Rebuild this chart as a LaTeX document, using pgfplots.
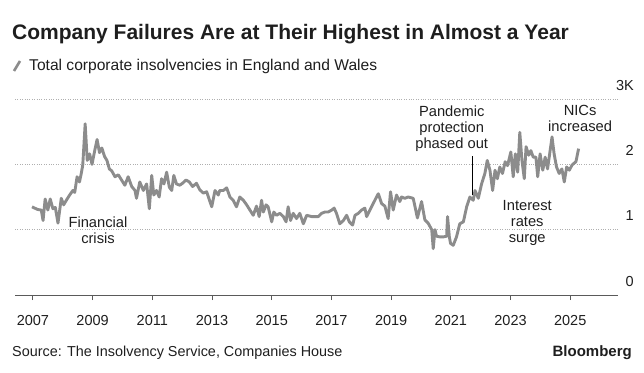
\documentclass[border=0pt]{standalone}
\usepackage{fontspec}
\setmainfont{Liberation Sans}
\usepackage{pgfplots}
\pgfplotsset{compat=1.18}
\usepackage{pgfplotstable}
\definecolor{linegray}{RGB}{140,140,140}
\definecolor{gridgray}{RGB}{175,175,175}
\definecolor{axgray}{RGB}{90,90,90}
\definecolor{txt}{RGB}{30,30,30}
\pgfplotstableread{
year val
2006.97 1.35
2007.15 1.31
2007.28 1.30
2007.34 1.14
2007.41 1.47
2007.50 1.30
2007.58 1.47
2007.67 1.32
2007.75 1.34
2007.84 1.10
2007.95 1.48
2008.03 1.38
2008.12 1.45
2008.23 1.53
2008.34 1.60
2008.40 1.57
2008.48 1.81
2008.56 1.73
2008.62 1.86
2008.67 1.99
2008.75 2.62
2008.82 2.06
2008.90 2.16
2008.98 2.00
2009.07 2.21
2009.15 2.38
2009.23 2.18
2009.31 2.25
2009.40 2.12
2009.48 2.06
2009.56 1.93
2009.64 1.90
2009.75 1.81
2009.86 1.84
2009.97 1.76
2010.08 1.68
2010.19 1.81
2010.31 1.66
2010.42 1.60
2010.47 1.48
2010.58 1.73
2010.70 1.60
2010.81 1.70
2010.90 1.32
2010.98 1.83
2011.05 1.53
2011.14 1.60
2011.23 1.50
2011.31 1.78
2011.39 1.70
2011.48 1.88
2011.57 1.65
2011.65 1.60
2011.72 1.83
2011.81 1.70
2011.92 1.68
2012.01 1.71
2012.13 1.76
2012.24 1.73
2012.35 1.66
2012.48 1.71
2012.59 1.61
2012.71 1.56
2012.82 1.58
2012.99 1.35
2013.10 1.60
2013.21 1.53
2013.26 1.60
2013.38 1.60
2013.49 1.64
2013.60 1.50
2013.71 1.45
2013.82 1.35
2013.93 1.50
2014.05 1.45
2014.16 1.38
2014.27 1.30
2014.38 1.22
2014.49 1.36
2014.58 1.20
2014.66 1.45
2014.72 1.27
2014.81 1.38
2014.88 1.35
2015.00 1.12
2015.07 1.27
2015.16 1.22
2015.27 1.25
2015.39 1.20
2015.48 1.12
2015.55 1.35
2015.63 1.14
2015.72 1.25
2015.83 1.17
2015.94 1.25
2016.06 1.09
2016.17 1.22
2016.34 1.20
2016.45 1.20
2016.56 1.20
2016.67 1.25
2016.78 1.27
2016.89 1.27
2017.01 1.30
2017.09 1.33
2017.17 1.25
2017.28 1.09
2017.40 1.14
2017.51 1.22
2017.60 1.12
2017.71 1.07
2017.79 1.22
2017.90 1.25
2018.01 1.30
2018.12 1.33
2018.18 1.20
2018.29 1.30
2018.40 1.40
2018.51 1.50
2018.57 1.55
2018.68 1.40
2018.79 1.36
2018.90 1.17
2018.98 1.58
2019.07 1.30
2019.18 1.53
2019.29 1.43
2019.35 1.50
2019.46 1.48
2019.57 1.50
2019.74 1.48
2019.88 1.18
2020.02 1.43
2020.13 1.15
2020.24 1.10
2020.36 1.00
2020.41 0.71
2020.47 1.00
2020.52 0.90
2020.63 0.89
2020.75 0.89
2020.86 0.90
2020.89 1.20
2020.95 0.89
2020.99 0.79
2021.08 0.76
2021.19 0.89
2021.30 1.09
2021.42 1.12
2021.53 1.35
2021.64 1.50
2021.75 1.45
2021.81 1.60
2021.92 1.48
2022.03 1.70
2022.14 1.86
2022.22 2.06
2022.31 1.91
2022.40 1.60
2022.48 1.91
2022.56 1.78
2022.64 1.96
2022.73 1.86
2022.82 2.04
2022.90 1.98
2023.01 2.19
2023.09 1.81
2023.16 2.16
2023.24 1.88
2023.31 2.49
2023.38 2.07
2023.46 1.78
2023.52 2.27
2023.61 2.14
2023.68 2.21
2023.76 2.11
2023.85 2.11
2023.91 1.81
2023.99 2.16
2024.08 1.91
2024.16 2.11
2024.24 1.93
2024.39 2.42
2024.46 2.16
2024.54 1.96
2024.63 1.86
2024.72 1.93
2024.80 1.73
2024.88 1.96
2024.97 1.91
2025.06 1.99
2025.19 2.04
2025.28 2.24
}\insolv
\begin{document}
\begin{tikzpicture}[x=1pt,y=1pt]
\useasboundingbox (0,0) rectangle (644,372);
\begin{axis}[
  at={(15pt,77pt)}, anchor=south west,
  scale only axis, width=603pt, height=196pt,
  xmin=2006.4, xmax=2026.6, ymin=0, ymax=3,
  axis x line*=bottom, axis y line*=right,
  x axis line style={draw=axgray, line width=0.9pt},
  y axis line style={draw=none},
  xtick={2007,2009,...,2025},
  ytick={0,1,2,3}, yticklabels={0,1,2,3K},
  xtick style={draw=axgray, line width=0.9pt},
  ytick style={draw=none},
  tick align=outside, major tick length=5pt,
  /pgf/number format/1000 sep={},
  /pgf/number format/assume math mode=true,
  ymajorgrids,
  grid style={gridgray, dotted, line width=0.8pt},
  xticklabel style={font=\fontsize{14.5}{16}\selectfont, text=txt, anchor=base, inner sep=0pt, yshift=-25pt},
  yticklabel style={font=\fontsize{14.5}{16}\selectfont, text=txt, anchor=base east, inner sep=0pt, xshift=11pt, yshift=9pt},
  clip=false,
]
\addplot[linegray, line width=2.9pt, line join=round] table[x=year, y=val] {\insolv};
\draw[black, line width=0.8pt] (axis cs:2021.72,1.53) -- (axis cs:2021.72,2.12);
\begin{scope}[every node/.style={align=center, font=\fontsize{14.7}{16}\selectfont, text=txt, inner sep=0pt}]
\node at (axis cs:2009.18,0.99) {Financial\\crisis};
\node at (axis cs:2021.03,2.55) {Pandemic\\protection\\phased out};
\node at (axis cs:2023.56,1.107) {Interest\\rates\\surge};
\node at (axis cs:2025.33,2.70) {NICs\\increased};
\end{scope}
\end{axis}
\node[anchor=base west, inner sep=0pt, text=txt, font=\fontsize{21}{24}\selectfont\bfseries] at (12,332.5) {Company Failures Are at Their Highest in Almost a Year};
\draw[linegray, line width=2.6pt] (14,301) -- (20,311);
\node[anchor=base west, inner sep=0pt, text=txt, font=\fontsize{15.6}{18}\selectfont] at (29,301.5) {Total corporate insolvencies in England and Wales};
\node[anchor=base west, inner sep=0pt, text=txt, font=\fontsize{14.4}{16}\selectfont] at (12,15.5) {Source: The Insolvency Service, Companies House};
\node[anchor=base east, inner sep=0pt, text=txt, font=\fontsize{15}{16}\selectfont\bfseries] at (632,15.5) {Bloomberg};
\end{tikzpicture}
\end{document}
